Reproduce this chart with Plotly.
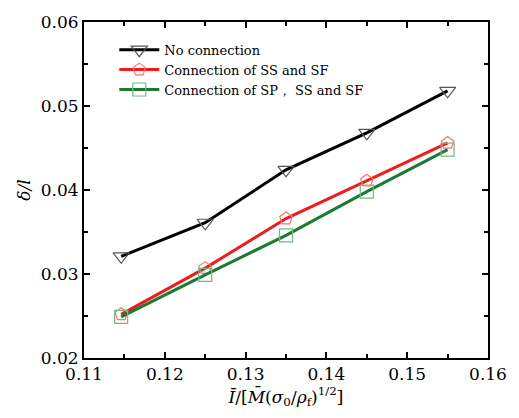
import plotly.graph_objects as go

x_vals = [0.1146, 0.125, 0.135, 0.145, 0.155]
no_connection = [0.0321, 0.0361, 0.0424, 0.0468, 0.0518]
conn_ss_sf = [0.0252, 0.0307, 0.0366, 0.0411, 0.0456]
conn_sp_ss_sf = [0.0249, 0.0299, 0.0346, 0.0398, 0.0448]

SERIF = "DejaVu Serif"

series = [
    ("No connection", no_connection, "#000000", "triangle-down-open", "#555555", 14),
    ("Connection of SS and SF", conn_ss_sf, "#ee1c1c", "pentagon-open", "#ff7070", 13),
    ("Connection of SP\uff0c SS and SF", conn_sp_ss_sf, "#1b7a32", "square-open", "#6dbb80", 13),
]

fig = go.Figure()
for name, ys, col, sym, mcol, msz in series:
    fig.add_trace(go.Scatter(
        x=x_vals, y=ys, name=name, mode="lines+markers",
        line=dict(color=col, width=3),
        marker=dict(symbol=sym, size=msz, color=mcol, line=dict(width=1.2, color=mcol)),
    ))

axis_style = dict(
    showline=True, linecolor="black", linewidth=2, mirror="ticks",
    ticks="inside", ticklen=6, tickwidth=2, tickcolor="black",
    showgrid=False, zeroline=False,
    tickfont=dict(family=SERIF, size=17, color="black"),
    minor=dict(ticks="inside", ticklen=4, tickwidth=2, tickcolor="black", dtick=0.005),
)

fig.update_xaxes(range=[0.11, 0.16], dtick=0.01, tickformat=".2f",
                 title=dict(text="<i>I\u0304</i>/[<i>M\u0304</i>(<i>\u03c3</i><sub>0</sub>/<i>\u03c1</i><sub>f</sub>)<sup>1/2</sup>]",
                            font=dict(family=SERIF, size=17, color="black"), standoff=4),
                 **axis_style)
fig.update_yaxes(range=[0.02, 0.06], dtick=0.01, tickformat=".2f",
                 title=dict(text="<i>\u03b4/l</i>",
                            font=dict(family=SERIF, size=17, color="black"), standoff=6),
                 **axis_style)

fig.update_layout(
    width=519, height=418,
    margin=dict(l=84, r=21, t=16, b=60),
    plot_bgcolor="white", paper_bgcolor="white",
    font=dict(family=SERIF),
    legend=dict(x=0.075, y=0.962, xanchor="left", yanchor="top",
                bgcolor="rgba(0,0,0,0)",
                font=dict(family=SERIF, size=13, color="black"),
                tracegroupgap=0, itemwidth=40),
    showlegend=True,
)

fig.write_html("out.html")
